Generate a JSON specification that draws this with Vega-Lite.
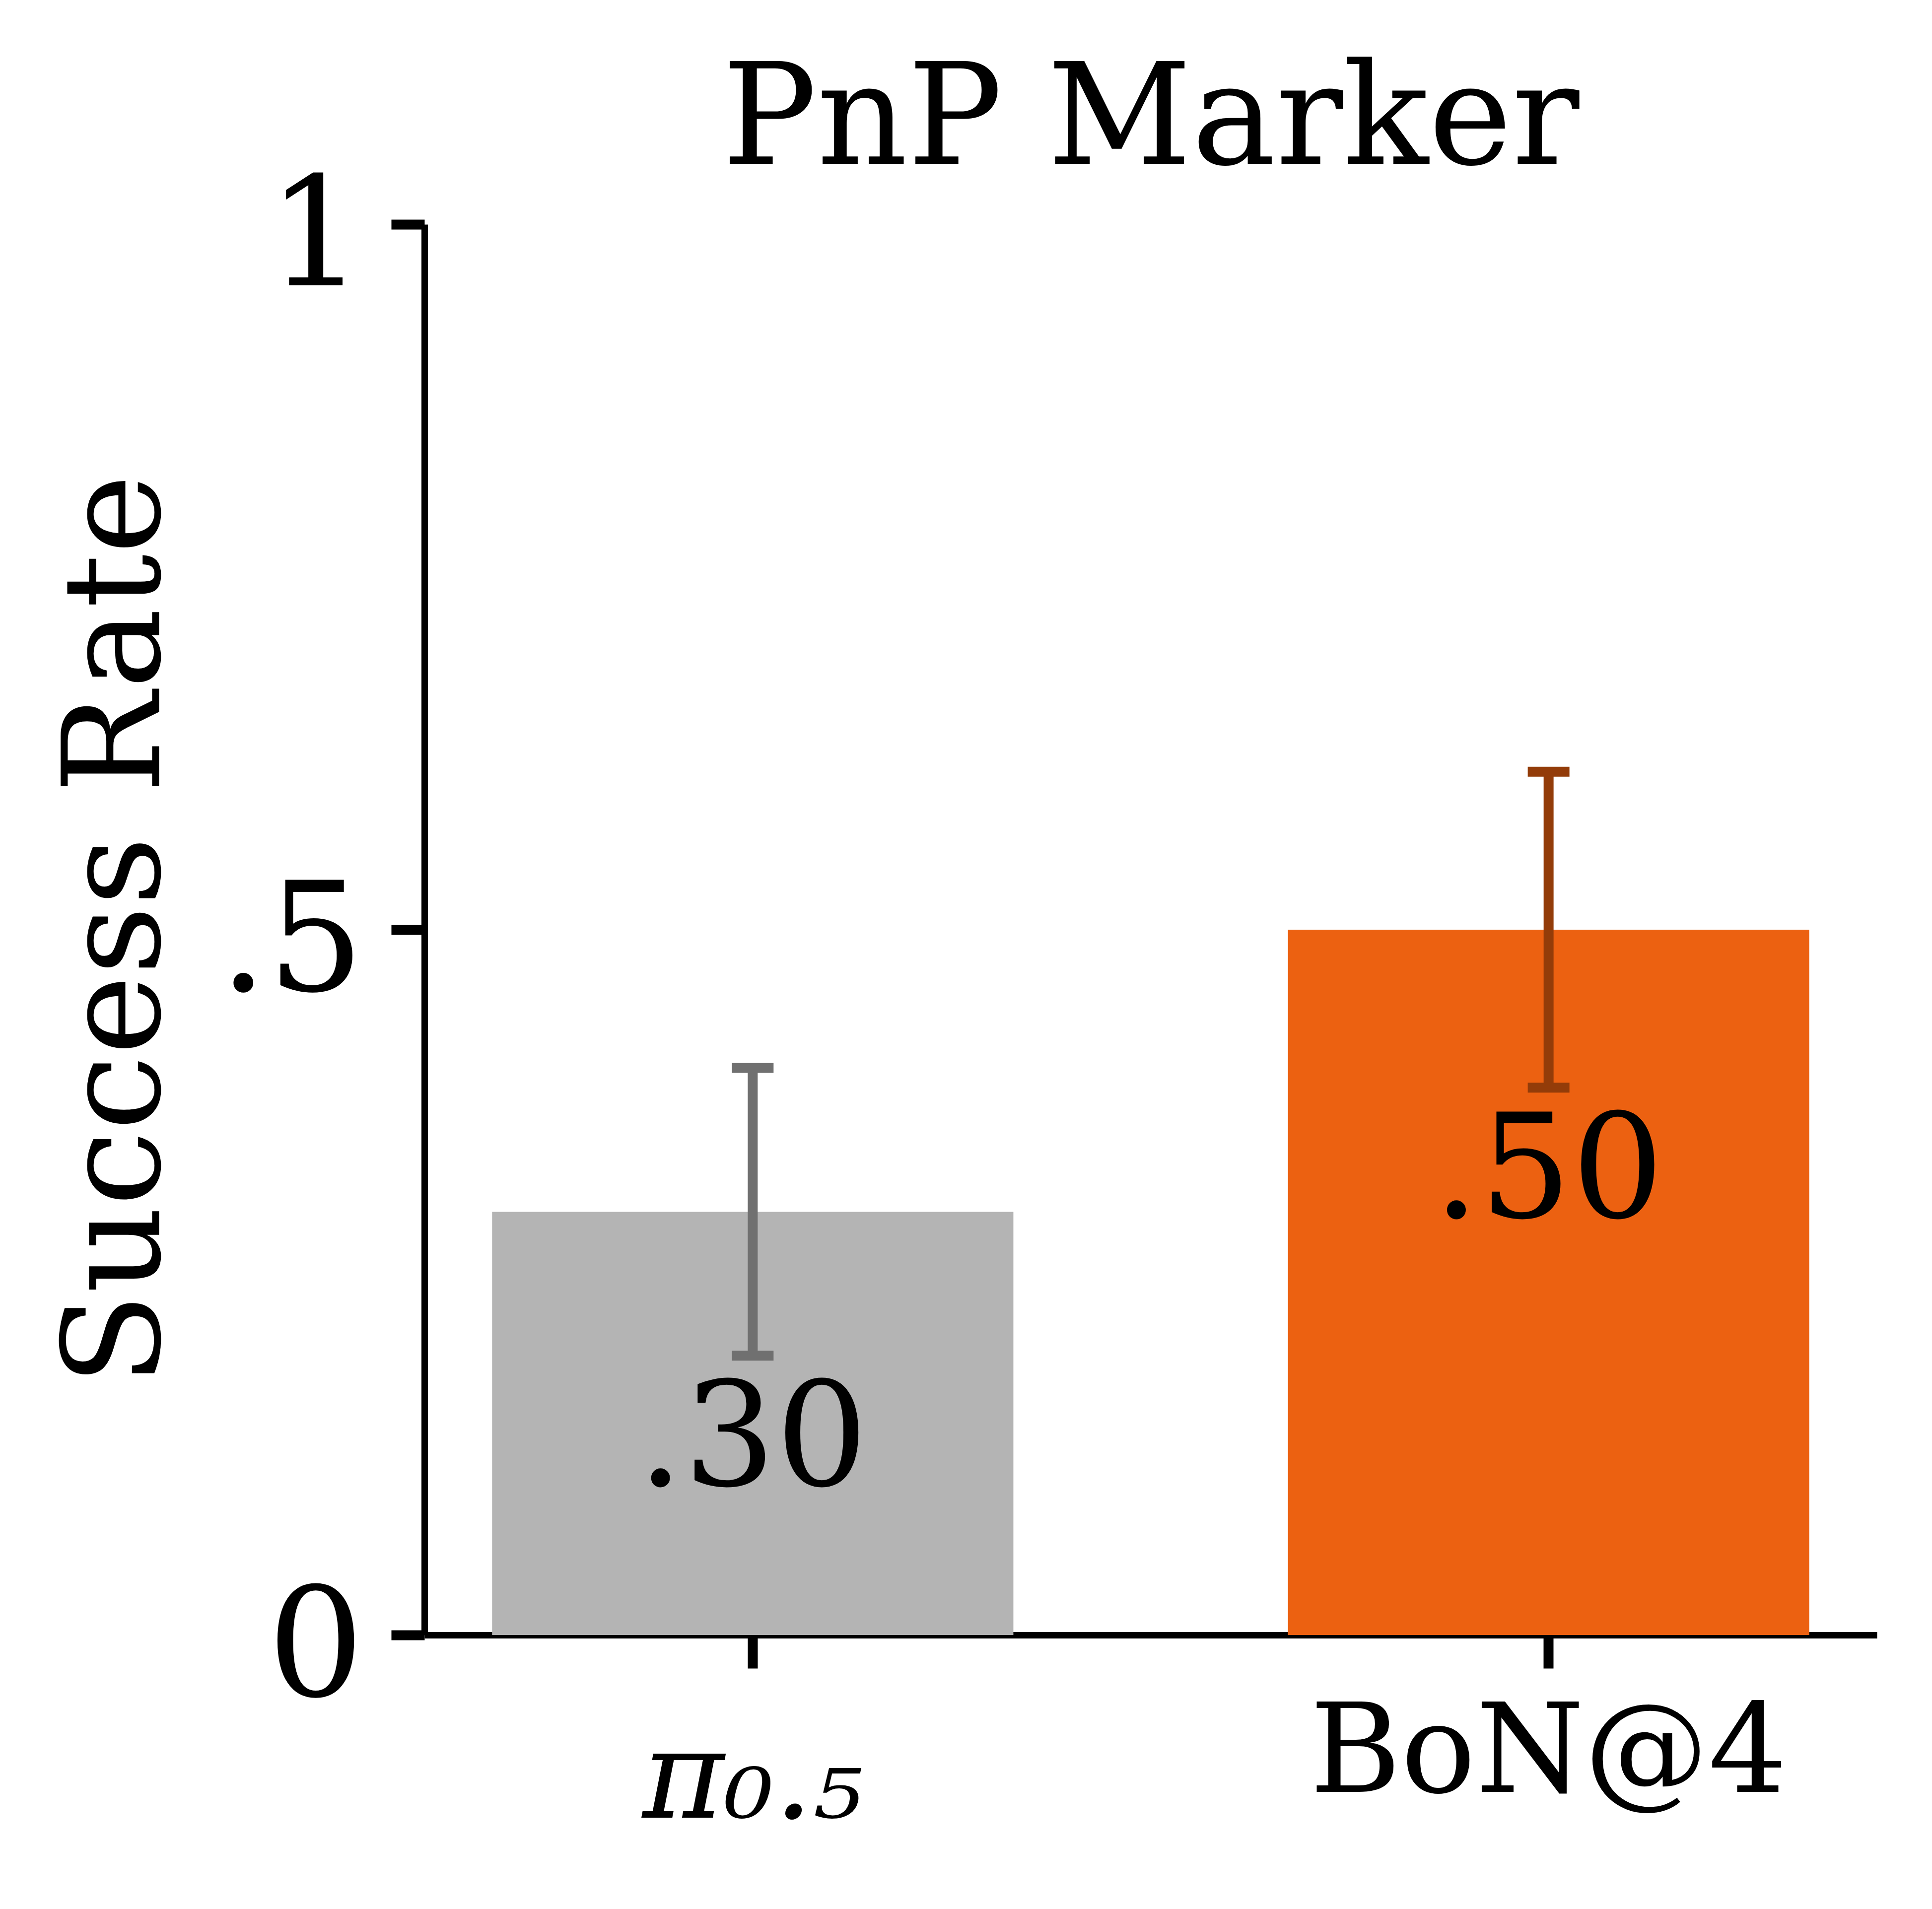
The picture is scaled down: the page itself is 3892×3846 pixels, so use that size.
{
  "$schema": "https://vega.github.io/schema/vega-lite/v6.json",
  "autosize": {"type": "none"},
  "padding": {"left": 855, "top": 452, "right": 111, "bottom": 552},
  "width": 2926,
  "height": 2842,
  "background": "white",
  "config": {"view": {"stroke": null}, "font": "DejaVu Serif"},
  "title": {
    "text": "PnP Marker",
    "font": "DejaVu Serif",
    "fontSize": 284,
    "fontWeight": "normal",
    "color": "black",
    "baseline": "alphabetic",
    "offset": -285
  },
  "data": {
    "values": [
      {"method": "π₀.₅", "rate": 0.30, "lo": 0.198, "hi": 0.402},
      {"method": "BoN@4", "rate": 0.50, "lo": 0.388, "hi": 0.612}
    ]
  },
  "transform": [
    {"calculate": "substring(format(datum.rate, '.2f'), 1)", "as": "rate_label"}
  ],
  "encoding": {
    "x": {
      "field": "method",
      "type": "nominal",
      "sort": null,
      "scale": {"paddingInner": 0.345, "paddingOuter": 0.085},
      "axis": {
        "title": null,
        "labelAngle": 0,
        "labelLimit": 0,
        "labelFont": "DejaVu Serif",
        "labelFontSize": 250,
        "labelFontStyle": {"condition": {"test": "datum.value == 'π₀.₅'", "value": "italic"}, "value": "normal"},
        "labelColor": "black",
        "labelBaseline": "alphabetic",
        "labelPadding": {"condition": {"test": "datum.value == 'π₀.₅'", "value": 300}, "value": 248},
        "tickSize": 67,
        "tickWidth": 20,
        "tickColor": "black",
        "domainColor": "black",
        "domainWidth": 13
      }
    }
  },
  "layer": [
    {
      "mark": {"type": "bar"},
      "encoding": {
        "y": {
          "field": "rate",
          "type": "quantitative",
          "scale": {"domain": [0, 1], "nice": false},
          "axis": {
            "values": [0, 0.5, 1],
            "labelExpr": "datum.value == 0 ? '0' : datum.value == 1 ? '1' : '.5'",
            "labelLimit": 0,
            "labelFont": "DejaVu Serif",
            "labelFontSize": 306,
            "labelColor": "black",
            "labelPadding": 55,
            "labelOffset": 30,
            "labelFlush": false,
            "labelOverlap": false,
            "tickSize": 67,
            "tickWidth": 20,
            "tickColor": "black",
            "domainColor": "black",
            "domainWidth": 13,
            "grid": false,
            "title": "Success Rate",
            "titleFont": "DejaVu Serif",
            "titleFontSize": 272,
            "titleFontWeight": "normal",
            "titleColor": "black",
            "titlePadding": 278
          }
        },
        "color": {
          "field": "method",
          "type": "nominal",
          "scale": {"domain": ["π₀.₅", "BoN@4"], "range": ["#b4b4b4", "#ec6111"]},
          "legend": null
        }
      }
    },
    {
      "mark": {"type": "rule", "strokeWidth": 20, "opacity": 1},
      "encoding": {
        "y": {"field": "lo", "type": "quantitative"},
        "y2": {"field": "hi"},
        "color": {
          "field": "method",
          "type": "nominal",
          "scale": {"domain": ["π₀.₅", "BoN@4"], "range": ["#707070", "#933c09"]},
          "legend": null
        }
      }
    },
    {
      "mark": {"type": "tick", "size": 84, "thickness": 20, "opacity": 1},
      "encoding": {
        "y": {"field": "lo", "type": "quantitative"},
        "color": {
          "field": "method",
          "type": "nominal",
          "scale": {"domain": ["π₀.₅", "BoN@4"], "range": ["#707070", "#933c09"]},
          "legend": null
        }
      }
    },
    {
      "mark": {"type": "tick", "size": 84, "thickness": 20, "opacity": 1},
      "encoding": {
        "y": {"field": "hi", "type": "quantitative"},
        "color": {
          "field": "method",
          "type": "nominal",
          "scale": {"domain": ["π₀.₅", "BoN@4"], "range": ["#707070", "#933c09"]},
          "legend": null
        }
      }
    },
    {
      "mark": {
        "type": "text",
        "font": "DejaVu Serif",
        "fontSize": 292,
        "color": "black",
        "align": "center",
        "baseline": "alphabetic",
        "dy": 261
      },
      "encoding": {
        "y": {"field": "lo", "type": "quantitative"},
        "text": {"field": "rate_label"}
      }
    }
  ],
  "resolve": {"scale": {"color": "independent"}}
}
